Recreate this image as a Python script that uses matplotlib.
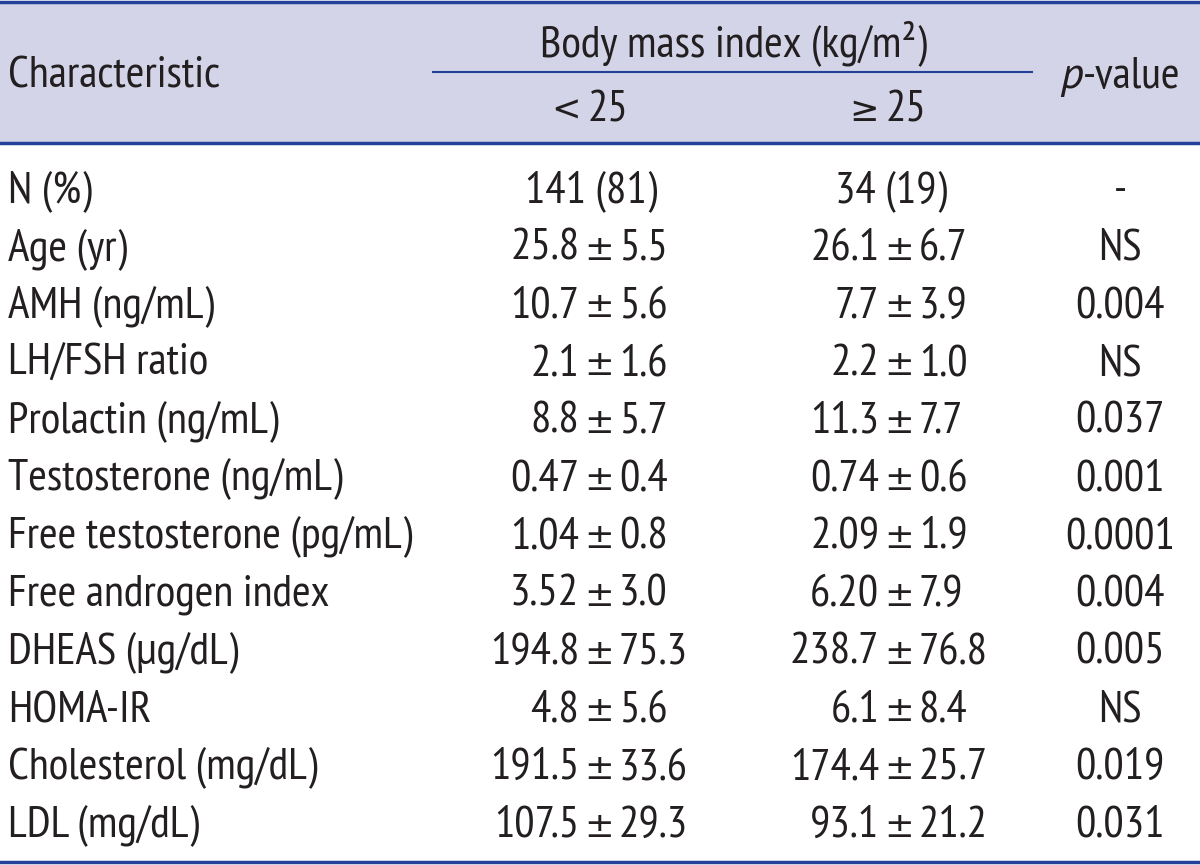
import matplotlib
matplotlib.use("Agg")
import matplotlib.pyplot as plt
from matplotlib import font_manager

# table content
characteristics = ["N (%)", "Age (yr)", "AMH (ng/mL)", "LH/FSH ratio", "Prolactin (ng/mL)",
                   "Testosterone (ng/mL)", "Free testosterone (pg/mL)", "Free androgen index",
                   "DHEAS (\u00b5g/dL)", "HOMA-IR", "Cholesterol (mg/dL)", "LDL (mg/dL)"]
bmi_lt25 = ["141 (81)", "25.8\u00b15.5", "10.7\u00b15.6", "2.1\u00b11.6", "8.8\u00b15.7",
            "0.47\u00b10.4", "1.04\u00b10.8", "3.52\u00b13.0", "194.8\u00b175.3", "4.8\u00b15.6",
            "191.5\u00b133.6", "107.5\u00b129.3"]
bmi_ge25 = ["34 (19)", "26.1\u00b16.7", "7.7\u00b13.9", "2.2\u00b11.0", "11.3\u00b17.7",
            "0.74\u00b10.6", "2.09\u00b11.9", "6.20\u00b17.9", "238.7\u00b176.8", "6.1\u00b18.4",
            "174.4\u00b125.7", "93.1\u00b121.2"]
p_values = ["-", "NS", "0.004", "NS", "0.037", "0.001", "0.0001", "0.004", "0.005", "NS",
            "0.019", "0.031"]
group_signs = ["<", "\u2265"]
group_cut = "25"

# pick a narrow font if one is there
fonts = font_manager.fontManager.ttflist
have = {f.name for f in fonts}
narrow = [n for n in ["PT Sans Narrow", "Fira Sans Condensed", "Roboto Condensed",
                      "Open Sans Condensed", "Archivo Narrow", "Liberation Sans Narrow"] if n in have]
FONT = narrow[:1] + ["DejaVu Sans"]
plt.rcParams["font.family"] = FONT
italic_have = {f.name for f in fonts if f.style == "italic"}
ITALIC = [n for n in ["PT Sans", "Fira Sans Condensed", "Roboto Condensed", "Open Sans"]
          if n in italic_have][:1] + ["DejaVu Sans"]
SYM = ["DejaVu Sans"]

W, H = 1200, 865
fig = plt.figure(figsize=(12, 8.65), dpi=100)
ax = fig.add_axes([0, 0, 1, 1])
ax.set_xlim(0, W)
ax.set_ylim(H, 0)
ax.axis("off")
r = fig.canvas.get_renderer()


def width(s, size, **kw):
    t = ax.text(0, 0, s, fontsize=size, **kw)
    w = t.get_window_extent(r).width
    t.remove()
    return w


# size the font so the longest label spans as in the reference
fs = 20 * 405 / width("Free testosterone (pg/mL)", 20)
fsym = fs * 0.78

txt = "#231f20"
band = "#d3d4e8"
blue = "#23419a"
kw = dict(color=txt, va="baseline")

# header band and rules
ax.add_patch(plt.Rectangle((0, 3), W, 140, color=band, zorder=0))
ax.plot([0, W], [2, 2], color=blue, lw=2.5)
ax.plot([0, W], [143, 143], color=blue, lw=2.5)
ax.plot([0, W], [862, 862], color=blue, lw=2.5)
ax.plot([433, 1032], [72, 72], color=blue, lw=1.5)

ax.text(8, 88, "Characteristic", fontsize=fs, ha="left", **kw)
ax.text(733, 56, "Body mass index (kg/m\u00b2)", fontsize=fs, ha="center", **kw)
head_x = [590, 888]
gap = 7
for x, sign in zip(head_x, group_signs):
    ws = width(sign, fsym, family=SYM)
    wn = width(group_cut, fs)
    x0 = x - (ws + gap + wn) / 2
    ax.text(x0, 121, sign, fontsize=fsym, family=SYM, ha="left", **kw)
    ax.text(x0 + ws + gap, 121, group_cut, fontsize=fs, ha="left", **kw)

# p-value header: italic p + normal text
wp = width("p", fs, family=ITALIC, style="italic")
wv = width("-value", fs)
x0 = 1120 - (wp + wv) / 2
ax.text(x0, 88, "p", fontsize=fs, family=ITALIC, style="italic", ha="left", **kw)
ax.text(x0 + wp, 88, "-value", fontsize=fs, ha="left", **kw)

row_base0, row_dy = 202, 57.7
col_x = [599, 899]
count_x = [591, 891]
pm_w = width("\u00b1", fsym, family=SYM)
for i, name in enumerate(characteristics):
    y = row_base0 + i * row_dy
    ax.text(8, y, name, fontsize=fs, ha="left", **kw)
    for j, val in enumerate([bmi_lt25[i], bmi_ge25[i]]):
        x = col_x[j]
        if "\u00b1" in val:
            a, b = val.split("\u00b1")
            ax.text(x - pm_w / 2 - 5, y, a, fontsize=fs, ha="right", **kw)
            ax.text(x, y, "\u00b1", fontsize=fsym, family=SYM, ha="center", **kw)
            ax.text(x + pm_w / 2 + 5, y, b, fontsize=fs, ha="left", **kw)
        else:
            ax.text(count_x[j], y, val, fontsize=fs, ha="center", **kw)
    ax.text(1120, y, p_values[i], fontsize=fs, ha="center", **kw)

fig.savefig("out.png", dpi=100)
